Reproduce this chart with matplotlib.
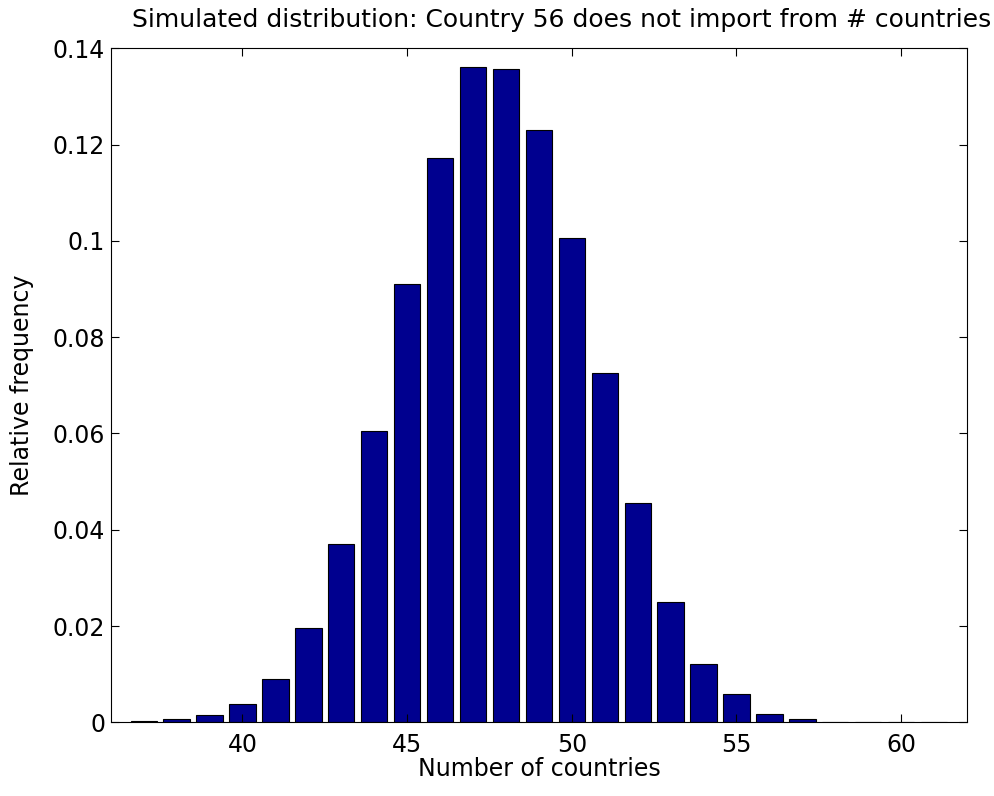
import matplotlib
matplotlib.use("Agg")
import numpy as np
import matplotlib.pyplot as plt

plt.rcParams['font.family'] = ['DejaVu Sans']

# number of countries (bar positions) and simulated relative frequencies
countries = np.arange(37, 62)
rel_freq = [0.0002, 0.0006, 0.0015, 0.0039, 0.0090, 0.0197, 0.0370, 0.0605,
            0.0910, 0.1172, 0.1362, 0.1357, 0.1230, 0.1005, 0.0725, 0.0455,
            0.0250, 0.0122, 0.0059, 0.0018, 0.0006, 0.0001, 0.00002, 0.0, 0.0]

xticks = [40, 45, 50, 55, 60]
yticks = [0, 0.02, 0.04, 0.06, 0.08, 0.1, 0.12, 0.14]
yticklabels = ["0", "0.02", "0.04", "0.06", "0.08", "0.1", "0.12", "0.14"]

fig = plt.figure(figsize=(9.95, 7.96), dpi=100)
ax = fig.add_axes([0.1113, 0.0925, 0.8606, 0.8468])

ax.bar(countries, rel_freq, width=0.8, color='#00008F', edgecolor='black', linewidth=0.8)

ax.set_xlim(36, 62)
ax.set_ylim(0, 0.14)
ax.set_xticks(xticks)
ax.set_yticks(yticks)
ax.set_yticklabels(yticklabels)
ax.tick_params(direction='in', length=6, width=0.8, top=True, right=True, labelsize=17)
ax.tick_params(axis='x', pad=8)
ax.tick_params(axis='y', pad=4)
for s in ax.spines.values():
    s.set_linewidth(0.8)

ax.set_xlabel("Number of countries", fontsize=17)
ax.xaxis.set_label_coords(0.5, -0.052)
ax.set_ylabel("Relative frequency", fontsize=17)
ax.yaxis.set_label_coords(-0.09, 0.5)
ax.set_title("Simulated distribution: Country 56 does not import from # countries",
             fontsize=18, x=0.527, y=1.031, pad=0)

fig.savefig("out.png", dpi=100)
